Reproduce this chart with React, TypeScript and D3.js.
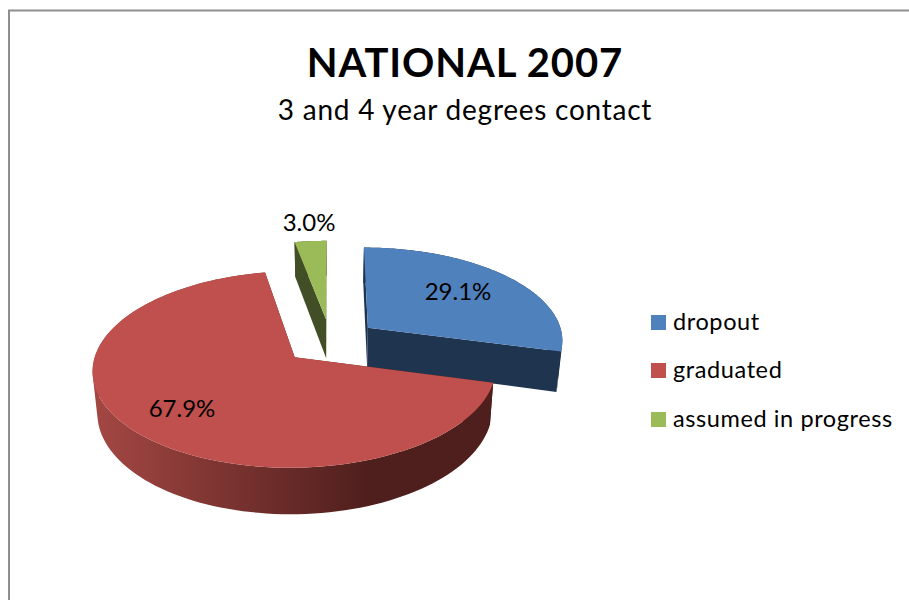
import React from "react";
import * as d3 from "d3";

const categories = ["dropout", "graduated", "assumed in progress"];
const shares = [29.1, 67.9, 3.0];
const percentLabels = ["29.1%", "67.9%", "3.0%"];
const topColors = ["#4F81BD", "#C0504D", "#9BBB59"];
const faceColors = ["#1F344F", "#4F1F1D", "#424F26"];

const WIDTH = 909;
const HEIGHT = 600;
const FONT = "Lato, Carlito, Calibri, sans-serif";

// Oblique view of the pie disc: a perspective mapping from the unit disc to the page.
const CX = 330.5;
const CY = 341.5;
const RX = 196;
const RY = 93;
const PERSPECTIVE = 0.12;
const EXPLODE = 0.245;
const DEPTH = 40;
const FLOOR_SHRINK = 0.98;

type Pt = [number, number];

const project = (u: number, v: number, floor: boolean): Pt => {
  const w = 1 - PERSPECTIVE * v;
  const x = (RX * u) / w;
  const y = (RY * v) / w;
  return floor ? [CX + x * FLOOR_SHRINK, CY + y + DEPTH / w] : [CX + x, CY + y];
};

const arcs = d3
  .pie<number>()
  .sort(null)
  .value((d) => d)(shares);

const toPath = d3.line<Pt>();

const sliceGeometry = (i: number) => {
  const { startAngle, endAngle } = arcs[i];
  const mid = (startAngle + endAngle) / 2;
  const ou = EXPLODE * Math.sin(mid);
  const ov = -EXPLODE * Math.cos(mid);
  const rim = (a: number, floor: boolean) =>
    project(ou + Math.sin(a), ov - Math.cos(a), floor);
  const apex = (floor: boolean) => project(ou, ov, floor);
  const angles = d3
    .range(0, 121)
    .map((k) => startAngle + ((endAngle - startAngle) * k) / 120);

  const top: Pt[] = [apex(false), ...angles.map((a) => rim(a, false))];
  // The curved wall is one path of small quads, so its silhouette keeps the
  // straight tangent edge where the rim turns away from the viewer. All quads
  // share a winding direction, otherwise overlaps would cancel out.
  const wall = d3
    .pairs(angles)
    .map(([a, b]) => {
      const quad: Pt[] = [rim(a, false), rim(b, false), rim(b, true), rim(a, true)];
      return toPath(d3.polygonArea(quad) < 0 ? quad.reverse() : quad) + "Z";
    })
    .join("");
  const cutFace = (a: number): Pt[] => [
    apex(false),
    rim(a, false),
    rim(a, true),
    apex(true),
  ];
  return { top, wall, startFace: cutFace(startAngle), endFace: cutFace(endAngle) };
};

// Back slices are painted first so the graduated slice sits in front.
const paintOrder = [2, 0, 1];
const legendRows = [322, 370, 419];

export default function App() {
  return (
    <svg
      width={WIDTH}
      height={HEIGHT}
      viewBox={`0 0 ${WIDTH} ${HEIGHT}`}
      style={{ position: "absolute", left: 0, top: 0, background: "#fff" }}
    >
      <defs>
        <linearGradient id="wallShade" gradientUnits="userSpaceOnUse" x1={94} x2={368} y1={0} y2={0}>
          <stop offset="0" stopColor="#A44743" />
          <stop offset="1" stopColor="#4F1F1D" />
        </linearGradient>
      </defs>

      <path d="M9 600V10.5H909" fill="none" stroke="#8E8E8E" strokeWidth={2} />

      <text x={465} y={77} textAnchor="middle" fontFamily={FONT} fontWeight={700} fontSize={40} letterSpacing={0.9} fill="#000">
        NATIONAL 2007
      </text>
      <text x={465} y={120} textAnchor="middle" fontFamily={FONT} fontSize={28} letterSpacing={0.75} fill="#000">
        3 and 4 year degrees contact
      </text>

      {paintOrder.map((i) => {
        const g = sliceGeometry(i);
        const wallFill = i === 1 ? "url(#wallShade)" : faceColors[i];
        return (
          <g key={categories[i]}>
            <path d={g.wall} fill={wallFill} />
            <path d={toPath(g.startFace) + "Z"} fill={faceColors[i]} />
            <path d={toPath(g.endFace) + "Z"} fill={faceColors[i]} />
            <path d={toPath(g.top) + "Z"} fill={topColors[i]} />
          </g>
        );
      })}

      <text x={458} y={300} textAnchor="middle" fontFamily={FONT} fontSize={24} fill="#000">{percentLabels[0]}</text>
      <text x={182} y={417} textAnchor="middle" fontFamily={FONT} fontSize={24} fill="#000">{percentLabels[1]}</text>
      <text x={309} y={231} textAnchor="middle" fontFamily={FONT} fontSize={24} fill="#000">{percentLabels[2]}</text>

      {categories.map((name, i) => (
        <g key={name}>
          <rect x={651} y={legendRows[i] - 7} width={15} height={15} fill={topColors[i]} />
          <text x={673} y={legendRows[i] + 8} fontFamily={FONT} fontSize={23.5} letterSpacing={0.6} fill="#000">
            {name}
          </text>
        </g>
      ))}
    </svg>
  );
}
